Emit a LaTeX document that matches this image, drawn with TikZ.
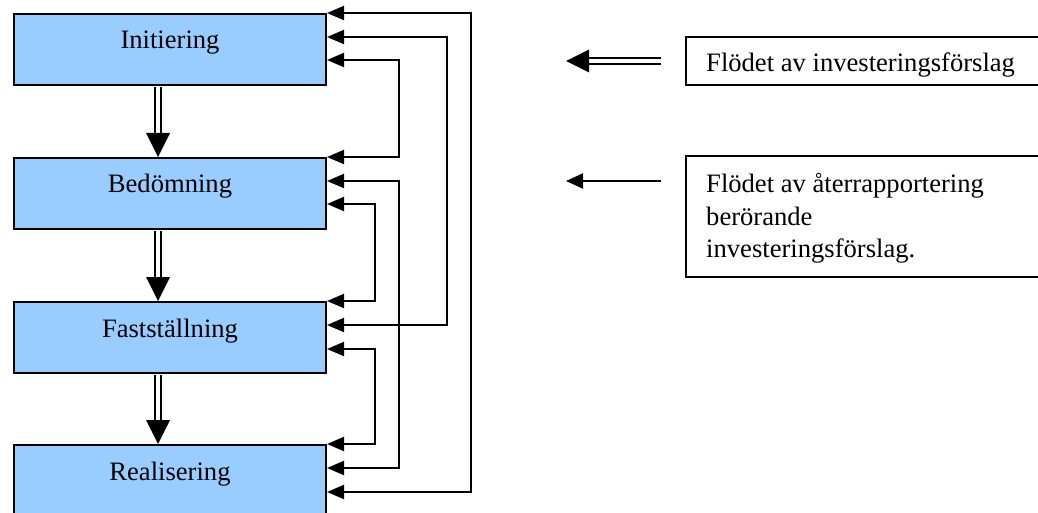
\documentclass[tikz,border=0pt]{standalone}
\usepackage{fontspec}
\setmainfont{Liberation Serif}
\usetikzlibrary{arrows.meta,calc}
\definecolor{stagefill}{HTML}{99CCFF}
\tikzset{
  textfont/.style={font=\fontsize{26.6}{32.5}\selectfont},
  stagebox/.style={draw, line width=2pt, fill=stagefill, minimum width=312pt,
    inner sep=0pt, text height=35pt, text depth=36pt, textfont, anchor=north west},
  legendbox/.style={draw, line width=2pt, inner sep=0pt, minimum width=400pt, anchor=north west},
  legendtext/.style={inner sep=0pt, anchor=base west, textfont},
  feedback/.style={line width=2pt, line join=miter,
    {Triangle[length=17pt,width=14pt]}-{Triangle[length=17pt,width=14pt]}},
  singleflow/.style={line width=2pt, -{Triangle[length=17pt,width=15pt]}},
  flowline/.style={double=white, double distance=3.6pt, line width=2pt},
}
\begin{document}
\begin{tikzpicture}[x=1pt,y=-1pt]
\useasboundingbox (0,0) rectangle (1038,513);

% process stages
\node[stagebox] (I) at (13,13)  {Initiering};
\node[stagebox] (B) at (13,157) {Bedömning};
\node[stagebox] (F) at (13,301) {Fastställning};
\node[stagebox] (R) at (13,444) {Realisering};

% main flow of proposals (double arrows)
\foreach \a/\b in {I/B,B/F,F/R} {
  \draw[flowline, shorten <=1pt, shorten >=20pt] ($(\a.south)+(-12,0)$) -- ($(\b.north)+(-12,0)$);
  \fill ($(\b.north)+(-12,0)$) -- ++(-12,-24) -- ++(24,0) -- cycle;
}

% feedback connectors between every pair of stages
\draw[feedback] (I.north east) -- ++(144,0) |- ($(R.north east)+(0,48)$);
\draw[feedback] ($(I.north east)+(0,24)$) -- ++(120,0) |- ($(F.north east)+(0,24)$);
\draw[feedback] ($(I.north east)+(0,47)$) -- ++(72,0) |- (B.north east);
\draw[feedback] ($(B.north east)+(0,24)$) -- ++(72,0) |- ($(R.north east)+(0,24)$);
\draw[feedback] ($(B.north east)+(0,47)$) -- ++(48,0) |- (F.north east);
\draw[feedback] ($(F.north east)+(0,48)$) -- ++(48,0) |- (R.north east);

% legend
\node[legendbox, minimum height=48pt] (L1) at (685,36) {};
\node[legendtext] (L1t) at ($(L1.north west)+(21,35.5)$) {Flödet av investeringsförslag};

\node[legendbox, minimum height=121pt] (L2) at (685,155) {};
\node[legendtext] (L2a) at ($(L2.north west)+(21,37.5)$) {Flödet av återrapportering};
\node[legendtext] (L2b) at ($(L2.north west)+(21,70)$) {berörande};
\node[legendtext] (L2c) at ($(L2.north west)+(21,102.5)$) {investeringsförslag.};

\coordinate (a1) at ($(L1.west)+(-24,0)$);
\coordinate (a1tip) at ($(a1)+(-95,0)$);
\draw[flowline, shorten >=20pt] (a1) -- (a1tip);
\fill (a1tip) -- ++(23,-11.5) -- ++(0,23) -- cycle;

\coordinate (a2) at ($(L2.north west)+(-24,26)$);
\coordinate (a2tip) at ($(a2)+(-95,0)$);
\draw[singleflow] (a2) -- (a2tip);
\end{tikzpicture}
\end{document}
